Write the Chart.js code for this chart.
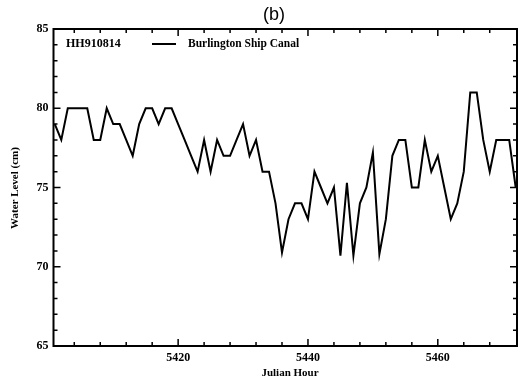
<!DOCTYPE html>
<html>
<head>
<meta charset="utf-8">
<script src="https://cdn.jsdelivr.net/npm/chart.js@4/dist/chart.umd.min.js"></script>
<style>
html,body{margin:0;padding:0;background:#fff;}
#wrap{width:519px;height:383px;position:relative;}
</style>
</head>
<body>
<div id="wrap"><canvas id="c" width="519" height="383"></canvas></div>
<script>
// ---- data ----
const julianHours = [5401,5402,5403,5404,5405,5406,5407,5408,5409,5410,5411,5412,5413,5414,5415,5416,5417,5418,5419,5420,5421,5422,5423,5424,5425,5426,5427,5428,5429,5430,5431,5432,5433,5434,5435,5436,5437,5438,5439,5440,5441,5442,5443,5444,5445,5446,5447,5448,5449,5450,5451,5452,5453,5454,5455,5456,5457,5458,5459,5460,5461,5462,5463,5464,5465,5466,5467,5468,5469,5470,5471,5472];
const waterLevel = [79,78,80,80,80,80,78,78,80,79,79,78,77,79,80,80,79,80,80,79,78,77,76,78,76,78,77,77,78,79,77,78,76,76,74,70.9,73,74,74,73,76,75,74,75,70.7,75.3,70.7,74,75,77.2,70.8,73,77,78,78,75,75,78,76,77,75,73,74,76,81,81,78,76,78,78,78,75];
const xTickLabels = [5420, 5440, 5460];
const xMinorTicks = [5404,5408,5412,5416,5424,5428,5432,5436,5444,5448,5452,5456,5464,5468];
const yTickLabels = [65, 70, 75, 80, 85];
const yMinorTicks = [66,67,68,69,71,72,73,74,76,77,78,79,81,82,83,84];
const seriesName = "Burlington Ship Canal";
const stationId = "HH910814";
const panelTitle = "(b)";
const xTitle = "Julian Hour";
const yTitle = "Water Level (cm)";

const serif = "'Liberation Serif', 'Times New Roman', serif";

const decor = {
  id: 'decor',
  afterDraw(chart) {
    const ctx = chart.ctx;
    const a = chart.chartArea;
    const xs = chart.scales.x, ys = chart.scales.y;
    ctx.save();
    ctx.strokeStyle = '#000';
    ctx.lineWidth = 1.5;
    const tickX = (v, len) => {
      const px = xs.getPixelForValue(v);
      ctx.beginPath();
      ctx.moveTo(px, a.bottom); ctx.lineTo(px, a.bottom - len);
      ctx.moveTo(px, a.top); ctx.lineTo(px, a.top + len);
      ctx.stroke();
    };
    const tickY = (v, len) => {
      const py = ys.getPixelForValue(v);
      ctx.beginPath();
      ctx.moveTo(a.left, py); ctx.lineTo(a.left + len, py);
      ctx.moveTo(a.right, py); ctx.lineTo(a.right - len, py);
      ctx.stroke();
    };
    xTickLabels.forEach(v => tickX(v, 7));
    xMinorTicks.forEach(v => tickX(v, 4));
    yTickLabels.forEach(v => tickY(v, 7));
    yMinorTicks.forEach(v => tickY(v, 4));
    ctx.lineWidth = 2;
    ctx.strokeRect(a.left, a.top, a.right - a.left, a.bottom - a.top);

    ctx.fillStyle = '#000';
    ctx.textBaseline = 'middle';
    ctx.textAlign = 'center';
    ctx.font = "18px 'Liberation Sans', Arial, sans-serif";
    ctx.fillText(panelTitle, 274, 15);

    ctx.font = "bold 11px " + serif;
    ctx.fillText(xTitle, 290, 373);
    ctx.save();
    ctx.translate(15, 188);
    ctx.rotate(-Math.PI / 2);
    ctx.fillText(yTitle, 0, 0);
    ctx.restore();

    ctx.textAlign = 'left';
    ctx.font = "bold 12px " + serif;
    ctx.fillText(stationId, 66, 44);
    ctx.lineWidth = 2;
    ctx.beginPath();
    ctx.moveTo(152, 44); ctx.lineTo(176, 44);
    ctx.stroke();
    ctx.font = "bold 11.5px " + serif;
    ctx.fillText(seriesName, 188, 44);
    ctx.restore();
  }
};

new Chart(document.getElementById('c'), {
  type: 'line',
  data: {
    datasets: [{
      label: seriesName,
      data: julianHours.map((h, i) => ({x: h, y: waterLevel[i]})),
      borderColor: '#000',
      borderWidth: 2,
      pointRadius: 0,
      tension: 0,
      fill: false
    }]
  },
  options: {
    responsive: false,
    animation: false,
    devicePixelRatio: 1,
    layout: { padding: { top: 29, right: 2, left: 0, bottom: 0 } },
    plugins: { legend: { display: false }, title: { display: false }, tooltip: { enabled: false } },
    scales: {
      x: {
        type: 'linear',
        min: 5400.8,
        max: 5472.2,
        grid: { display: false, drawTicks: false },
        border: { display: false },
        afterFit(s) { s.height = 37; },
        afterBuildTicks(s) { s.ticks = xTickLabels.map(v => ({value: v})); },
        ticks: { color: '#000', font: { family: serif, size: 12, weight: 'bold' }, padding: 5, maxRotation: 0, callback: v => String(v) }
      },
      y: {
        type: 'linear',
        min: 65,
        max: 85,
        grid: { display: false, drawTicks: false },
        border: { display: false },
        afterFit(s) { s.width = 53.5; },
        afterBuildTicks(s) { s.ticks = yTickLabels.map(v => ({value: v})); },
        ticks: { color: '#000', font: { family: serif, size: 12, weight: 'bold' }, padding: 5, callback: v => String(v) }
      }
    }
  },
  plugins: [decor]
});
</script>
</body>
</html>
